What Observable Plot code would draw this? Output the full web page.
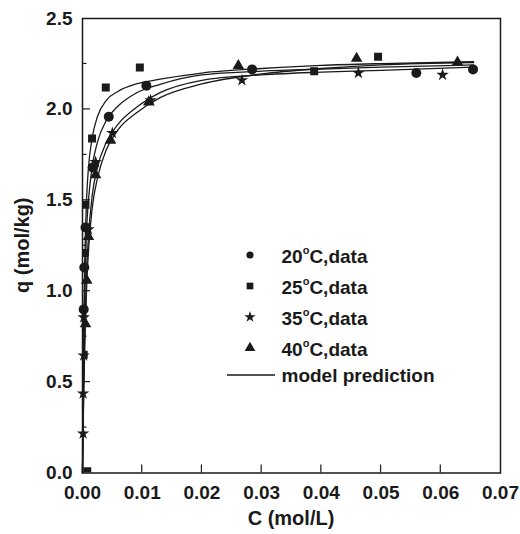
<!DOCTYPE html>
<html><head><meta charset="utf-8">
<script src="https://cdn.jsdelivr.net/npm/d3@7"></script>
<script src="https://cdn.jsdelivr.net/npm/@observablehq/plot@0.6"></script>
<style>body{margin:0;background:#fff}</style>
</head><body><div id="chart"></div>
<script>
// Model prediction curves
const modelC  = [0, 0.0001, 0.0002, 0.0004, 0.0007, 0.001, 0.0016, 0.0025, 0.004, 0.006, 0.009, 0.013, 0.02, 0.03, 0.04, 0.05, 0.0655];
const model25 = [0, 0.45, 0.80, 1.20, 1.52, 1.68, 1.84, 1.96, 2.05, 2.10, 2.14, 2.166, 2.20, 2.225, 2.242, 2.252, 2.262];
const model20 = [0, 0.35, 0.65, 1.02, 1.35, 1.50, 1.68, 1.82, 1.94, 2.02, 2.09, 2.138, 2.19, 2.21, 2.222, 2.232, 2.245];
const model35 = [0, 0.25, 0.48, 0.80, 1.12, 1.30, 1.52, 1.68, 1.82, 1.92, 2.01, 2.092, 2.16, 2.19, 2.205, 2.215, 2.232];
const model40 = [0, 0.22, 0.42, 0.72, 1.03, 1.22, 1.45, 1.62, 1.78, 1.89, 1.98, 2.065, 2.14, 2.195, 2.225, 2.245, 2.258];

// Experimental data
const c20 = [0.0002, 0.0003, 0.0005, 0.0017, 0.0044, 0.0107, 0.0284, 0.0559, 0.0654];
const q20 = [0.90, 1.13, 1.35, 1.68, 1.96, 2.13, 2.22, 2.20, 2.22];
const c25 = [0.0008, 0.0002, 0.0003, 0.0005, 0.0016, 0.0039, 0.0096, 0.0388, 0.0495];
const q25 = [0.01, 0.65, 1.21, 1.475, 1.84, 2.12, 2.23, 2.21, 2.29];
const c35 = [0.0001, 0.0001, 0.0002, 0.0002, 0.001, 0.0022, 0.005, 0.0114, 0.0267, 0.0462, 0.0603];
const q35 = [0.217, 0.437, 0.646, 0.856, 1.34, 1.71, 1.87, 2.05, 2.16, 2.20, 2.19];
const c40 = [0.0005, 0.0007, 0.001, 0.0022, 0.0047, 0.0111, 0.0261, 0.0459, 0.0628];
const q40 = [0.82, 1.06, 1.30, 1.64, 1.83, 2.04, 2.24, 2.28, 2.26];

const xTicks = [0, 0.01, 0.02, 0.03, 0.04, 0.05, 0.06, 0.07];
const yMajor = [0, 0.5, 1.0, 1.5, 2.0, 2.5];
const yMinor = [0.25, 0.75, 1.25, 1.75, 2.25];
const temps = ["20", "25", "35", "40"];
const symbols = ["circle", "square", "star", "triangle"];
const xLabel = "C (mol/L)";
const yLabel = "q (mol/kg)";
const modelLabel = "model prediction";

const ink = "#1a1a1a";
const font = "'Liberation Sans', Arial, Helvetica, sans-serif";

const toRows = (t, cs, qs) => cs.map((c, i) => ({t, C: c, q: qs[i]}));
const lines = [
  ...toRows("20", modelC, model20), ...toRows("25", modelC, model25),
  ...toRows("35", modelC, model35), ...toRows("40", modelC, model40)
];
const pts = {
  "20": toRows("20", c20, q20), "25": toRows("25", c25, q25),
  "35": toRows("35", c35, q35), "40": toRows("40", c40, q40)
};

const plot = Plot.plot({
  width: 520, height: 534,
  marginLeft: 82, marginRight: 20, marginTop: 18, marginBottom: 61.5,
  style: {fontFamily: font, fontWeight: "bold", color: ink, background: "#fff"},
  x: {domain: [0, 0.07]},
  y: {domain: [0, 2.5]},
  marks: [
    Plot.line(lines, {x: "C", y: "q", z: "t", stroke: ink, strokeWidth: 1.3, curve: "monotone-x"}),
    Plot.dot(pts["20"], {x: "C", y: "q", symbol: "circle", r: 5, fill: ink}),
    Plot.dot(pts["25"], {x: "C", y: "q", symbol: "square", r: 4.5, fill: ink, clip: true}),
    Plot.dot(pts["35"], {x: "C", y: "q", symbol: "star", r: 3.9, fill: ink}),
    Plot.dot(pts["40"], {x: "C", y: "q", symbol: "triangle", r: 4.3, fill: ink}),
    Plot.frame({stroke: ink, strokeWidth: 1.5}),
    Plot.axisX({ticks: xTicks, tickSize: 0, tickPadding: 12, tickFormat: d3.format(".2f"), label: null, fontSize: 19, fontWeight: "bold"}),
    Plot.axisY({ticks: yMajor, tickSize: 0, tickPadding: 10, tickFormat: d3.format(".1f"), label: null, fontSize: 19, fontWeight: "bold"})
  ]
});

const sx = v => plot.scale("x").apply(v);
const sy = v => plot.scale("y").apply(v);
const svg = d3.select(plot);
const x0 = sx(0), x1 = sx(0.07), y0 = sy(0), y1 = sy(2.5);
const g = svg.append("g").attr("stroke", ink).attr("stroke-width", 1.2);
xTicks.slice(1, -1).forEach(v => g.append("line").attr("x1", sx(v)).attr("x2", sx(v)).attr("y1", y0).attr("y2", y0 - 8));
yMajor.slice(1, -1).forEach(v => g.append("line").attr("y1", sy(v)).attr("y2", sy(v)).attr("x1", x0).attr("x2", x0 + 8));
yMinor.forEach(v => g.append("line").attr("y1", sy(v)).attr("y2", sy(v)).attr("x1", x0).attr("x2", x0 + 4.5));

// axis titles
svg.append("text").text(xLabel).attr("x", (x0 + x1) / 2).attr("y", 525)
  .attr("text-anchor", "middle").attr("font-size", 20).attr("font-weight", "bold").attr("fill", ink).attr("font-family", font);
svg.append("text").text(yLabel).attr("transform", `translate(29,${(y0 + y1) / 2}) rotate(-90)`)
  .attr("text-anchor", "middle").attr("font-size", 20).attr("font-weight", "bold").attr("fill", ink).attr("font-family", font);

// legend
const lg = svg.append("g").attr("font-family", font).attr("font-weight", "bold").attr("font-size", 19)
  .attr("fill", ink).attr("text-anchor", "start");
const symSize = {circle: 40, square: 45, star: 40, triangle: 50};
const symMap = {circle: d3.symbolCircle, square: d3.symbolSquare, star: d3.symbolStar, triangle: d3.symbolTriangle};
temps.forEach((t, i) => {
  const yy = 255 + i * 31;
  lg.append("path").attr("d", d3.symbol(symMap[symbols[i]], symSize[symbols[i]])()).attr("transform", `translate(250,${yy})`).attr("fill", ink);
  const tx = lg.append("text").attr("x", 281.5).attr("y", yy + 8).attr("text-anchor", "start");
  tx.append("tspan").text(t);
  tx.append("tspan").text("o").attr("font-size", 11).attr("dy", -9);
  tx.append("tspan").text("C,data").attr("dy", 9);
});
lg.append("line").attr("x1", 227).attr("x2", 275).attr("y1", 375).attr("y2", 375).attr("stroke", ink).attr("stroke-width", 1.3);
lg.append("text").attr("x", 281.5).attr("y", 382).attr("text-anchor", "start").text(modelLabel);

document.getElementById("chart").appendChild(plot);
</script>
</body></html>
